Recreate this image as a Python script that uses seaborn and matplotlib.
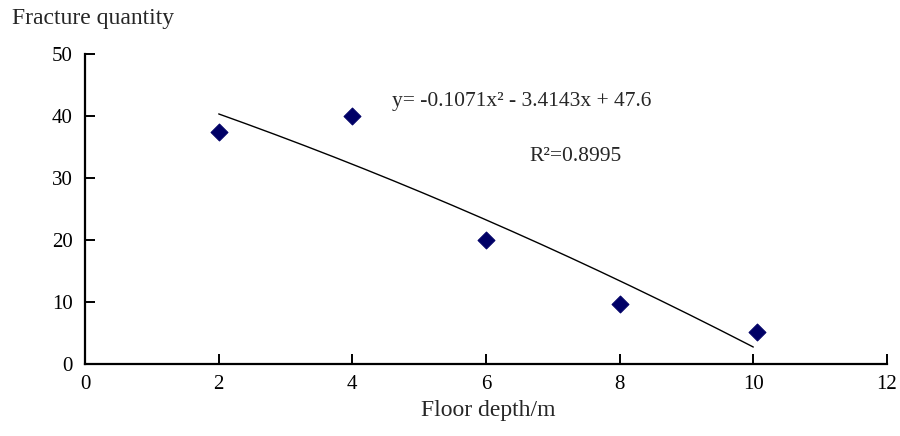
import numpy as np
import pandas as pd
import matplotlib
matplotlib.use("Agg")
import matplotlib.pyplot as plt
import seaborn as sns

depth = [2.0, 4.0, 6.0, 8.0, 10.05]
fractures = [37.4, 40.0, 20.0, 9.7, 5.1]
coef = [-0.1071, -3.4143, 47.6]
x_ticks = [0, 2, 4, 6, 8, 10, 12]
y_ticks = [0, 10, 20, 30, 40, 50]

sns.set_theme(style="white")
plt.rcParams['font.family'] = ['Liberation Serif', 'DejaVu Serif']

fig = plt.figure(figsize=(9, 4.36), dpi=100)
ax = fig.add_axes([0.0945, 0.165, 0.891, 0.711])

df = pd.DataFrame({"depth": depth, "fractures": fractures})
xs = np.linspace(2, 10, 200)
trend = pd.DataFrame({"x": xs, "y": np.polyval(coef, xs)})
sns.lineplot(data=trend, x="x", y="y", ax=ax, color="black", linewidth=1.0)
sns.scatterplot(data=df, x="depth", y="fractures", ax=ax, marker="D",
                color="#000066", s=75, edgecolor="#000066", zorder=3)

ax.set_xlim(0, 12)
ax.set_ylim(0, 50)
ax.set_xticks(x_ticks)
ax.set_yticks(y_ticks)
ax.tick_params(bottom=True, left=True, direction="in", length=7, width=1.4,
               labelsize=15, colors="black")
ax.tick_params(axis="x", pad=8)
ax.tick_params(axis="y", pad=9)
for s in ["top", "right"]:
    ax.spines[s].set_visible(False)
for s in ["left", "bottom"]:
    ax.spines[s].set_color("black")
    ax.spines[s].set_linewidth(1.6)
ax.set_xlabel("")
ax.set_ylabel("")

fig.text(0.013, 0.958, "Fracture quantity", fontsize=17, ha="left", va="center")
fig.text(0.543, 0.058, "Floor depth/m", fontsize=17, ha="center", va="center")
ax.text(4.6, 42.4, "y= -0.1071x\u00b2 - 3.4143x + 47.6", fontsize=15.5, va="center")
ax.text(6.65, 33.4, "R\u00b2=0.8995", fontsize=15.5, va="center")

fig.savefig("out.png", dpi=100)
